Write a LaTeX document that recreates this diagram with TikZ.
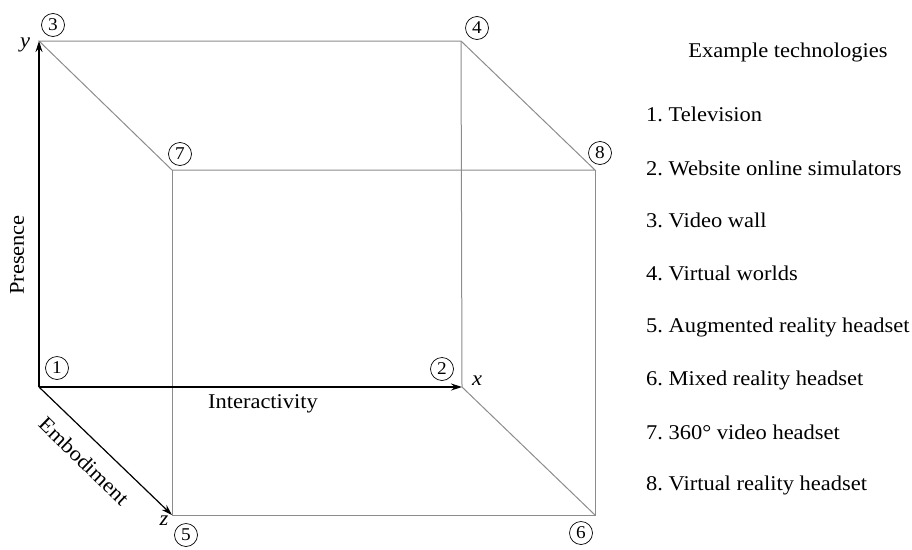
\documentclass[tikz,border=0pt]{standalone}
\usepackage{fontspec}
\setmainfont[FakeStretch=1.07]{Liberation Serif}
\usetikzlibrary{arrows.meta}
\frenchspacing
\begin{document}
\begin{tikzpicture}[x=1pt,y=-1pt,
  edge/.style={draw=black!45,line width=1pt},
  axis/.style={draw=black,line width=1.2pt,-{Stealth[length=11pt,width=7pt]}},
  num/.style={circle,draw=black,line width=0.7pt,inner sep=0pt,minimum size=23pt,font=\fontsize{18}{18}\selectfont},
  lbl/.style={font=\fontsize{21}{24}\selectfont,inner sep=0pt},
  leg/.style={font=\fontsize{21}{24}\selectfont,inner sep=0pt,anchor=west}]
\useasboundingbox (0,0) rectangle (912,549);
\coordinate (P1) at (39,387);
\coordinate (P2) at (462,387);
\coordinate (P3) at (39,41);
\coordinate (P4) at (461,41);
\coordinate (P5) at (172,515);
\coordinate (P6) at (595,515);
\coordinate (P7) at (172,170);
\coordinate (P8) at (595,170);
% cube edges
\draw[edge] (P3) -- (P4) -- (P8) -- (P7) -- cycle;
\draw[edge] (P7) -- (P5) -- (P6) -- (P8);
\draw[edge] (P4) -- (P2) -- (P6);
% axes
\draw[axis] (P1) -- (P2);
\draw[axis] (P1) -- (P3);
\draw[axis] (P1) -- (P5);
% circled numbers
\node[num] (n1) at (57,368) {1};
\node[num] (n2) at (442,369) {2};
\node[num] (n3) at (53,25) {3};
\node[num] (n4) at (477,28) {4};
\node[num] (n5) at (186,535) {5};
\node[num] (n6) at (581,533) {6};
\node[num] (n7) at (180,154) {7};
\node[num] (n8) at (600,153) {8};
% axis letters
\node[lbl] (ly) at (25,45) {\textit{y}};
\node[lbl] (lx) at (477,381) {\textit{x}};
\node[lbl] (lz) at (164,521) {\textit{z}};
% axis names
\node[lbl,rotate=90] (pres) at (17,255) {Presence};
\node[lbl] (inter) at (263,404) {Interactivity};
\node[lbl,rotate=-44] (emb) at (84,461) {Embodiment};
% legend
\node[lbl] (title) at (788,52) {Example technologies};
\node[leg] (t1) at (646,114) {1. Television};
\node[leg] (t2) at (646,168) {2. Website online simulators};
\node[leg] (t3) at (646,220) {3. Video wall};
\node[leg] (t4) at (646,273) {4. Virtual worlds};
\node[leg] (t5) at (646,327) {5. Augmented reality headset};
\node[leg] (t6) at (646,380) {6. Mixed reality headset};
\node[leg] (t7) at (646,432) {7. 360° video headset};
\node[leg] (t8) at (646,485) {8. Virtual reality headset};
\end{tikzpicture}
\end{document}
